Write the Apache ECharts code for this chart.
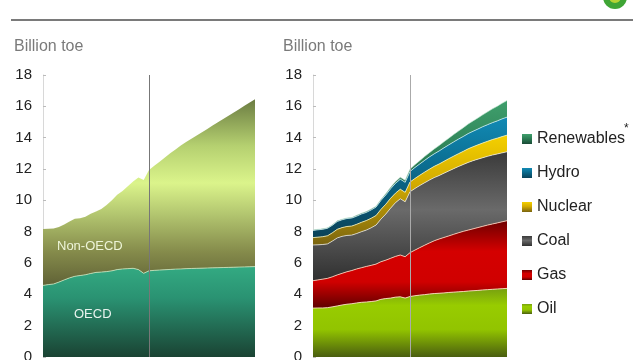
<!DOCTYPE html>
<html>
<head>
<meta charset="utf-8">
<script src="https://cdn.jsdelivr.net/npm/echarts@6/dist/echarts.min.js"></script>
<style>
html,body{margin:0;padding:0;background:#fff;}
#c{width:640px;height:360px;}
</style>
</head>
<body>
<div id="c"></div>
<script>
// ---- data (billion toe) ----
const years = [];
for (let y = 1990; y <= 2030; y++) years.push(String(y));
const yTicks = ['0','2','4','6','8','10','12','14','16','18'];

// Left panel: by region
const oecd = [4.57,4.62,4.66,4.78,4.92,5.05,5.15,5.20,5.25,5.33,5.40,5.42,5.45,5.50,5.58,5.62,5.64,5.66,5.58,5.34,5.50,
  5.53,5.55,5.57,5.59,5.61,5.62,5.64,5.65,5.66,5.67,5.68,5.69,5.70,5.71,5.72,5.73,5.74,5.75,5.76,5.77];
const nonOecd = [3.60,3.56,3.54,3.52,3.53,3.60,3.67,3.65,3.70,3.82,3.88,4.03,4.25,4.50,4.77,4.98,5.26,5.54,5.87,5.96,6.43,
  6.67,6.92,7.17,7.41,7.64,7.88,8.08,8.28,8.48,8.68,8.88,9.08,9.28,9.48,9.68,9.88,10.08,10.28,10.48,10.68];

// Right panel: by fuel
const oil = [3.12,3.13,3.13,3.15,3.20,3.26,3.32,3.37,3.40,3.45,3.49,3.51,3.54,3.58,3.68,3.73,3.76,3.82,3.84,3.76,3.86,
  3.91,3.95,3.98,4.02,4.05,4.07,4.09,4.12,4.14,4.16,4.18,4.21,4.23,4.25,4.28,4.30,4.32,4.34,4.36,4.38];
const gas = [1.75,1.79,1.84,1.87,1.92,1.98,2.02,2.07,2.12,2.17,2.21,2.27,2.31,2.35,2.40,2.45,2.54,2.60,2.67,2.64,2.80,
  2.91,3.03,3.15,3.26,3.37,3.46,3.54,3.61,3.69,3.77,3.84,3.89,3.95,4.01,4.06,4.12,4.17,4.22,4.27,4.32];
const coal = [2.28,2.24,2.21,2.20,2.28,2.36,2.36,2.32,2.26,2.26,2.30,2.32,2.40,2.49,2.72,2.94,3.20,3.43,3.59,3.51,3.89,
  3.93,3.96,3.99,4.01,4.03,4.05,4.10,4.15,4.19,4.23,4.27,4.32,4.35,4.37,4.38,4.39,4.40,4.40,4.40,4.40];
const nuclear = [0.47,0.49,0.50,0.52,0.53,0.55,0.56,0.57,0.58,0.59,0.60,0.61,0.61,0.61,0.62,0.63,0.63,0.61,0.61,0.60,0.62,
  0.64,0.66,0.68,0.70,0.72,0.74,0.76,0.78,0.80,0.82,0.84,0.87,0.89,0.91,0.94,0.96,0.99,1.01,1.04,1.06];
const hydro = [0.46,0.47,0.47,0.48,0.48,0.50,0.50,0.51,0.51,0.52,0.53,0.52,0.53,0.54,0.57,0.59,0.61,0.62,0.64,0.64,0.67,
  0.70,0.72,0.75,0.78,0.80,0.83,0.86,0.88,0.91,0.93,0.95,0.97,0.99,1.01,1.04,1.06,1.08,1.10,1.13,1.15];
const renewables = [0.03,0.03,0.03,0.03,0.03,0.04,0.04,0.04,0.04,0.05,0.05,0.05,0.06,0.06,0.07,0.08,0.09,0.10,0.12,0.13,0.15,
  0.18,0.21,0.24,0.27,0.31,0.35,0.39,0.43,0.47,0.51,0.56,0.61,0.66,0.71,0.76,0.82,0.88,0.94,1.00,1.06];
const legendNames = ['Renewables','Hydro','Nuclear','Coal','Gas','Oil'];
const splitYear = '2010';

// ---- helpers ----
function grad(stops) {
  return new echarts.graphic.LinearGradient(0, 0, 0, 1,
    stops.map(s => ({offset: s[0], color: s[1]})));
}
const FONT = '"Liberation Sans", Arial, sans-serif';

function yAxisCfg(idx) {
  return {
    type: 'value', gridIndex: idx, min: 0, max: 18, interval: 2,
    axisLine: {show: true, lineStyle: {color: '#d8d8d8'}},
    axisTick: {show: true, inside: true, length: 3, lineStyle: {color: '#bbb'}},
    splitLine: {show: false},
    axisLabel: {color: '#222', fontSize: 15, fontFamily: FONT, margin: 11,
      formatter: v => yTicks[Math.round(v / 2)]}
  };
}
function xAxisCfg(idx) {
  return {
    type: 'category', gridIndex: idx, data: years, boundaryGap: false,
    axisLine: {show: false}, axisTick: {show: false}, axisLabel: {show: false},
    splitLine: {show: false}
  };
}
function areaSeries(name, data, idx, stack, fill, line, mark) {
  const s = {
    name: name, type: 'line', xAxisIndex: idx, yAxisIndex: idx, stack: stack,
    data: data, showSymbol: false, symbol: 'none', smooth: false,
    itemStyle: {color: fill},
    lineStyle: {width: line ? 1 : 0, color: line || 'rgba(0,0,0,0)'},
    areaStyle: {color: fill, opacity: 1},
    emphasis: {disabled: true}, silent: true, z: 2
  };
  if (mark) {
    s.markLine = {
      silent: true, symbol: 'none', animation: false,
      label: {show: false},
      lineStyle: {color: mark, width: 1, type: 'solid'},
      data: [{xAxis: splitYear}]
    };
  }
  return s;
}

const chart = echarts.init(document.getElementById('c'), null, {renderer: 'canvas'});
chart.setOption({
  animation: false,
  backgroundColor: '#fff',
  grid: [
    {left: 43, top: 75, width: 212, height: 282, outerBoundsMode: 'none', containLabel: false},
    {left: 313, top: 75, width: 194, height: 282, outerBoundsMode: 'none', containLabel: false}
  ],
  xAxis: [xAxisCfg(0), xAxisCfg(1)],
  yAxis: [yAxisCfg(0), yAxisCfg(1)],
  legend: {
    orient: 'vertical', left: 522, top: 131, itemGap: 18, padding: 0,
    itemWidth: 10, itemHeight: 10, icon: 'rect',
    data: legendNames, selectedMode: false,
    textStyle: {color: '#222', fontSize: 16, fontFamily: FONT}
  },
  series: [
    areaSeries('OECD', oecd, 0, 'region',
      grad([[0,'#33aa82'],[0.35,'#2a9272'],[1,'#1a4333']]), 'rgba(200,230,190,0.8)'),
    areaSeries('Non-OECD', nonOecd, 0, 'region',
      grad([[0,'#6b7c42'],[0.25,'#b5d070'],[0.45,'#dbf48b'],[0.62,'#b2c56f'],[0.82,'#858b4b'],[1,'#606236']]), null, '#777'),

    areaSeries('Oil', oil, 1, 'fuel',
      grad([[0,'#77a010'],[0.25,'#98cc00'],[0.6,'#92c400'],[1,'#4a5e10']]), 'rgba(250,225,190,0.9)'),
    areaSeries('Gas', gas, 1, 'fuel',
      grad([[0,'#6e0000'],[0.35,'#d40000'],[0.7,'#d00000'],[1,'#5e0000']]), 'rgba(250,200,180,0.9)'),
    areaSeries('Coal', coal, 1, 'fuel',
      grad([[0,'#3a3a3a'],[0.45,'#6a6a6a'],[1,'#303030']]), 'rgba(240,240,240,0.7)'),
    areaSeries('Nuclear', nuclear, 1, 'fuel',
      grad([[0,'#f4d000'],[0.45,'#d2aa00'],[1,'#7a6410']]), 'rgba(255,245,180,0.8)'),
    areaSeries('Hydro', hydro, 1, 'fuel',
      grad([[0,'#118ab4'],[0.5,'#0a6688'],[1,'#0a4258']]), 'rgba(200,235,245,0.8)'),
    areaSeries('Renewables', renewables, 1, 'fuel',
      grad([[0,'#3f9f6c'],[0.5,'#2a7a52'],[1,'#1a4a36']]), 'rgba(200,235,215,0.6)', '#aaa')
  ],
  graphic: [
    {type: 'line', shape: {x1: 11, y1: 20, x2: 633, y2: 20},
      style: {stroke: '#7a7a7a', lineWidth: 2}, silent: true},
    {type: 'circle', shape: {cx: 615, cy: -3, r: 12},
      style: {fill: '#3fa535'}, silent: true},
    {type: 'circle', shape: {cx: 615, cy: -3, r: 6},
      style: {fill: '#b5d334'}, silent: true},
    {type: 'text', left: 14, top: 39,
      style: {text: 'Billion toe', fill: '#7a7a7a', fontSize: 16, fontFamily: FONT}, silent: true},
    {type: 'text', left: 283, top: 39,
      style: {text: 'Billion toe', fill: '#7a7a7a', fontSize: 16, fontFamily: FONT}, silent: true},
    {type: 'text', left: 57, top: 240, z: 10,
      style: {text: 'Non-OECD', fill: '#eef5d8', fontSize: 13, fontFamily: FONT}, silent: true},
    {type: 'text', left: 74, top: 308, z: 10,
      style: {text: 'OECD', fill: '#e8f3ee', fontSize: 13, fontFamily: FONT}, silent: true},
    {type: 'text', left: 624, top: 123, z: 10,
      style: {text: '*', fill: '#222', fontSize: 12, fontFamily: FONT}, silent: true}
  ]
});
</script>
</body>
</html>
